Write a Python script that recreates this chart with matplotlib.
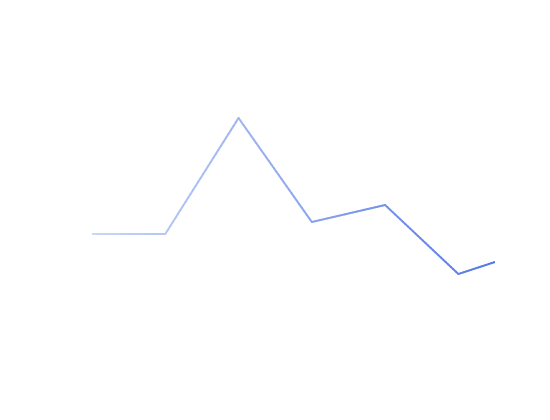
import matplotlib
matplotlib.use('Agg')
import matplotlib.pyplot as plt
import matplotlib.colors as mcolors
from matplotlib.collections import LineCollection
import numpy as np

# Dados
categorias = ['A', 'B', 'C', 'D', 'E', 'F', 'G']
valores = [166, 166, 282, 178, 195, 126, 150]

cmap = mcolors.LinearSegmentedColormap.from_list('', ['#c8d8f6', '#5578e8'])

fig = plt.figure(figsize=(5.5, 4.2), dpi=100)
ax = fig.add_axes([92 / 550, 0, (495 - 92) / 550, 1])
ax.set_xlim(0, 5.5)
ax.set_ylim(-20, 400)
ax.axis('off')

x = np.arange(len(categorias))
y = np.array(valores, dtype=float)

# subdividir cada trecho apenas para o degradê de cor
segs = []
cores = []
for i in range(len(x) - 1):
    t = np.linspace(0, 1, 30)
    xs = x[i] + (x[i + 1] - x[i]) * t
    ys = y[i] + (y[i + 1] - y[i]) * t
    pts = np.column_stack([xs, ys])
    for j in range(len(pts) - 1):
        segs.append(pts[j:j + 2])
        cores.append((pts[j, 0] + pts[j + 1, 0]) / 2 / 5.5)

lc = LineCollection(segs, cmap=cmap, linewidths=1.4, capstyle='round', joinstyle='round')
lc.set_array(np.array(cores))
lc.set_clim(0, 1)
ax.add_collection(lc)

plt.savefig('out.png', dpi=100)
